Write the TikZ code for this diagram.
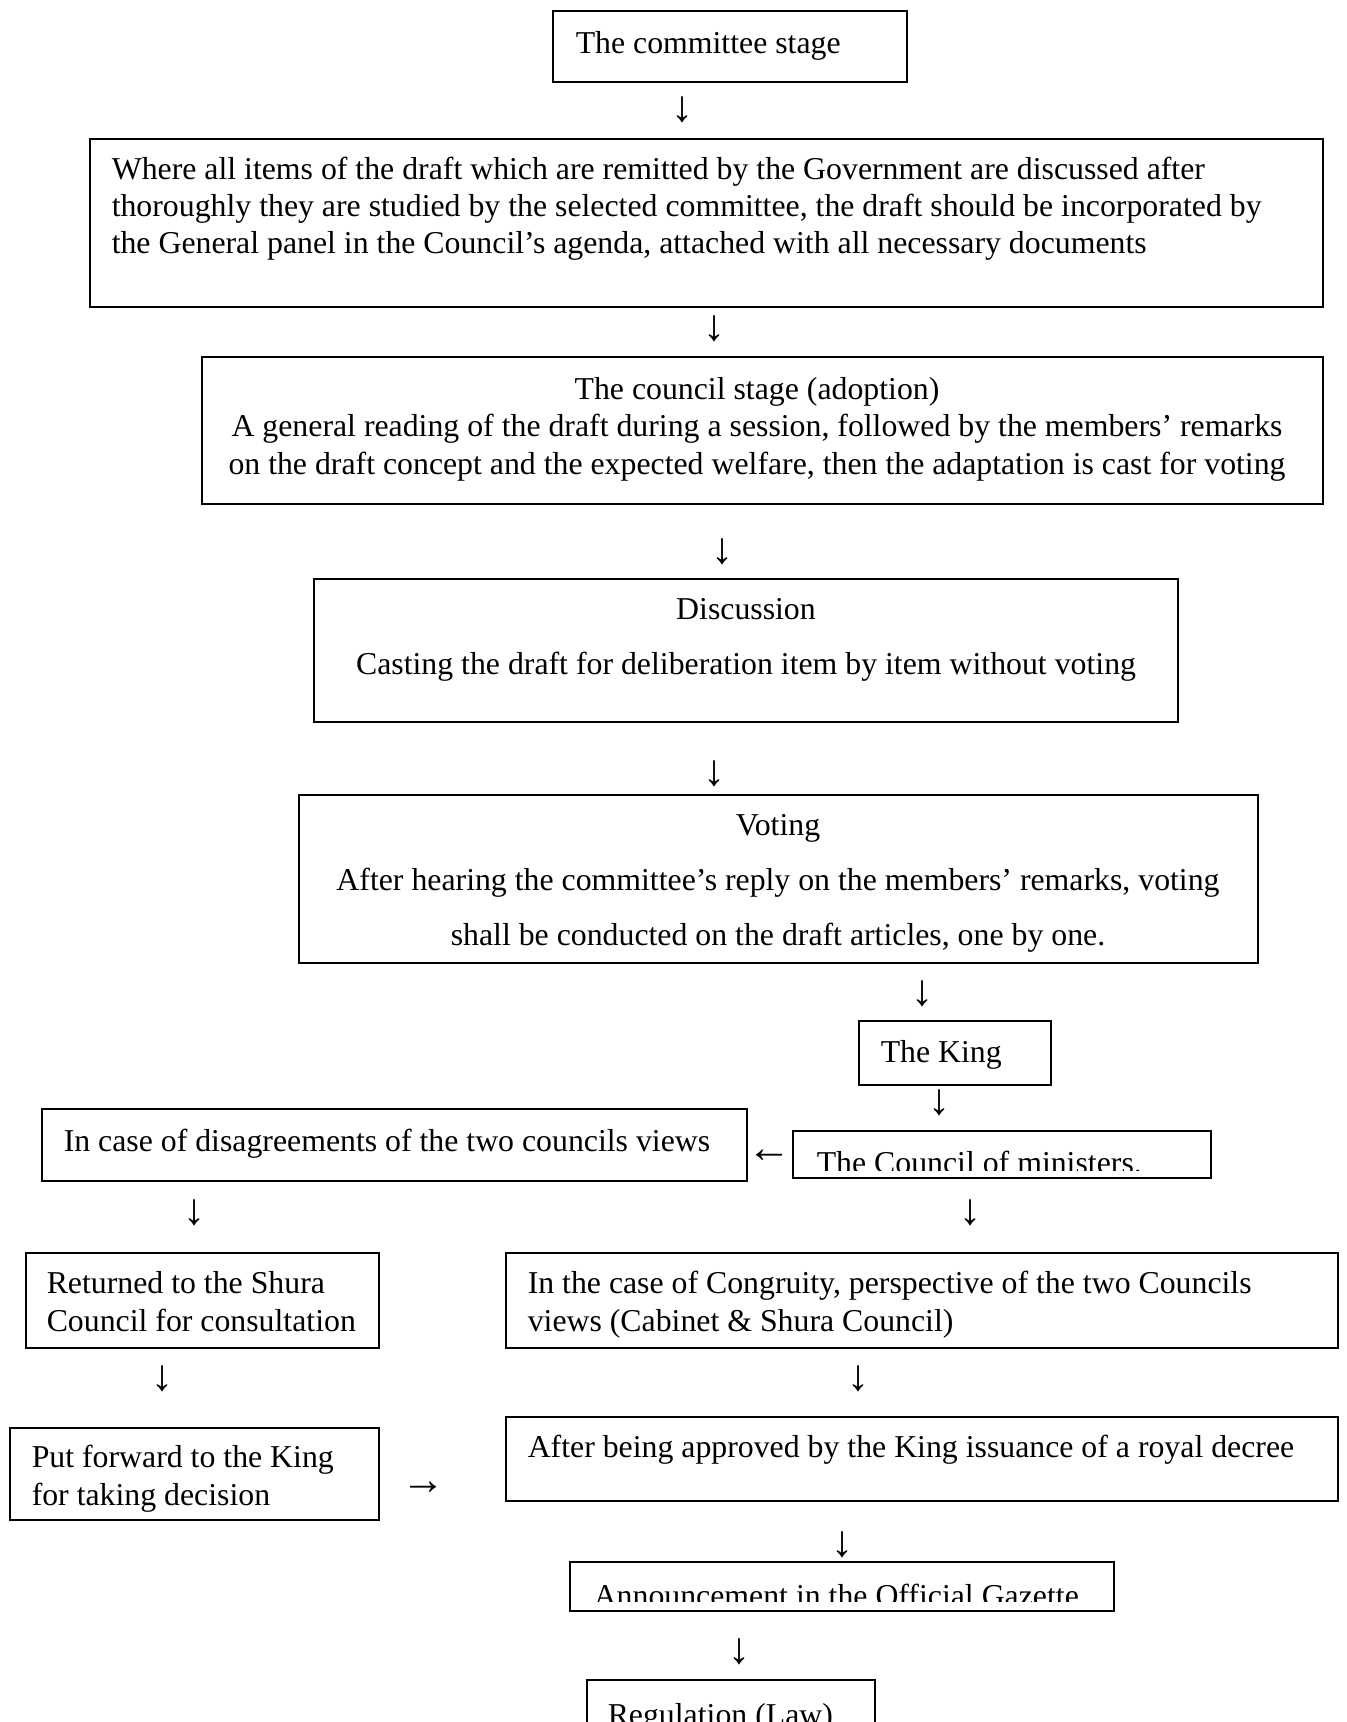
\documentclass[tikz,border=0pt]{standalone}
\usepackage{fontspec}
\setmainfont{Liberation Serif}

\tikzset{every picture/.style={line width=0.75pt}}
\tikzset{
  box/.style={line width=1pt},
  txt/.style={anchor=base west, inner sep=0pt, align=left, font=\fontsize{15.9}{18.6}\selectfont},
  mid/.style={anchor=base, inner sep=0pt, align=center, font=\fontsize{15.9}{18.6}\selectfont},
  wide/.style={anchor=base, inner sep=0pt, align=center, font=\fontsize{15.9}{27.5}\selectfont},
  arr/.style={inner sep=0pt, font=\fontsize{22}{24}\selectfont}
}

\begin{document}
\begin{tikzpicture}[x=0.5pt,y=0.5pt,yscale=-1,xscale=1]
\useasboundingbox (0,0) rectangle (1346,1722);

%Shape: Rectangle [id:committee] 
\draw [box]  (553,11) rectangle (907,82) ;
%Shape: Rectangle [id:items] 
\draw [box]  (90,139) rectangle (1323,307) ;
%Shape: Rectangle [id:adoption] 
\draw [box]  (202,357) rectangle (1323,504) ;
%Shape: Rectangle [id:discussion] 
\draw [box]  (314,579) rectangle (1178,722) ;
%Shape: Rectangle [id:voting] 
\draw [box]  (299,795) rectangle (1258,963) ;
%Shape: Rectangle [id:king] 
\draw [box]  (859,1021) rectangle (1051,1085) ;
%Shape: Rectangle [id:disagree] 
\draw [box]  (42,1109) rectangle (747,1181) ;
%Shape: Rectangle [id:ministers] 
\draw [box]  (793,1131) rectangle (1211,1178) ;
%Shape: Rectangle [id:shura] 
\draw [box]  (26,1253) rectangle (379,1348) ;
%Shape: Rectangle [id:congruity] 
\draw [box]  (506,1253) rectangle (1338,1348) ;
%Shape: Rectangle [id:forward] 
\draw [box]  (10,1428) rectangle (379,1520) ;
%Shape: Rectangle [id:decree] 
\draw [box]  (506,1417) rectangle (1338,1501) ;
%Shape: Rectangle [id:gazette] 
\draw [box]  (570,1562) rectangle (1114,1611) ;
%Shape: Rectangle [id:law] 
\draw [box]  (587,1680) rectangle (875,1740) ;

% Text Node
\draw (575,54) node [txt] (committee) {The committee stage};
% Text Node
\draw (111,254) node [txt] (items) {Where all items of the draft which are remitted by the Government are discussed after\\thoroughly they are studied by the selected committee, the draft should be incorporated by\\the General panel in the Council’s agenda, attached with all necessary documents};
% Text Node
\draw (757,474) node [mid] (adoption) {The council stage (adoption)\\A general reading of the draft during a session, followed by the members’ remarks\\on the draft concept and the expected welfare, then the adaptation is cast for voting};
% Text Node
\draw (746,674) node [wide] (discussion) {Discussion\\Casting the draft for deliberation item by item without voting};
% Text Node
\draw (778,945) node [wide] (voting) {Voting\\After hearing the committee’s reply on the members’ remarks, voting\\shall be conducted on the draft articles, one by one.};
% Text Node
\draw (880,1062) node [txt] (king) {The King};
% Text Node
\draw (63,1151) node [txt] (disagree) {In case of disagreements of the two councils views};
% Text Node
\begin{scope}
\clip (793,1131) rectangle (1211,1170);
\draw (816,1173) node [txt] (ministers) {The Council of ministers.};
\end{scope}
% Text Node
\draw (46,1331) node [txt] (shura) {Returned to the Shura\\Council for consultation};
% Text Node
\draw (527,1331) node [txt] (congruity) {In the case of Congruity, perspective of the two Councils\\views (Cabinet \& Shura Council)};
% Text Node
\begin{scope}
\clip (10,1428) rectangle (379,1511);
\draw (31,1505) node [txt] (forward) {Put forward to the King\\for taking decision};
\end{scope}
% Text Node
\draw (527,1457) node [txt] (decree) {After being approved by the King issuance of a royal decree};
% Text Node
\begin{scope}
\clip (570,1562) rectangle (1114,1601);
\draw (593,1606) node [txt] (gazette) {Announcement in the Official Gazette};
\end{scope}
% Text Node
\draw (607,1725) node [txt] (law) {Regulation (Law)};

% Arrow Nodes
\draw (682,110) node [arr] (a1) {↓};
\draw (714,329) node [arr] (a2) {↓};
\draw (722,552) node [arr] (a3) {↓};
\draw (714,774) node [arr] (a4) {↓};
\draw (922,994) node [arr] (a5) {↓};
\draw (939,1103) node [arr] (a6) {↓};
\draw (769,1156) node [arr] (a7) {←};
\draw (194,1213) node [arr] (a8) {↓};
\draw (970,1213) node [arr] (a9) {↓};
\draw (162,1379) node [arr] (a10) {↓};
\draw (858,1379) node [arr] (a11) {↓};
\draw (423,1488) node [arr] (a12) {→};
\draw (842,1545) node [arr] (a13) {↓};
\draw (739,1652) node [arr] (a14) {↓};

\end{tikzpicture}
\end{document}
